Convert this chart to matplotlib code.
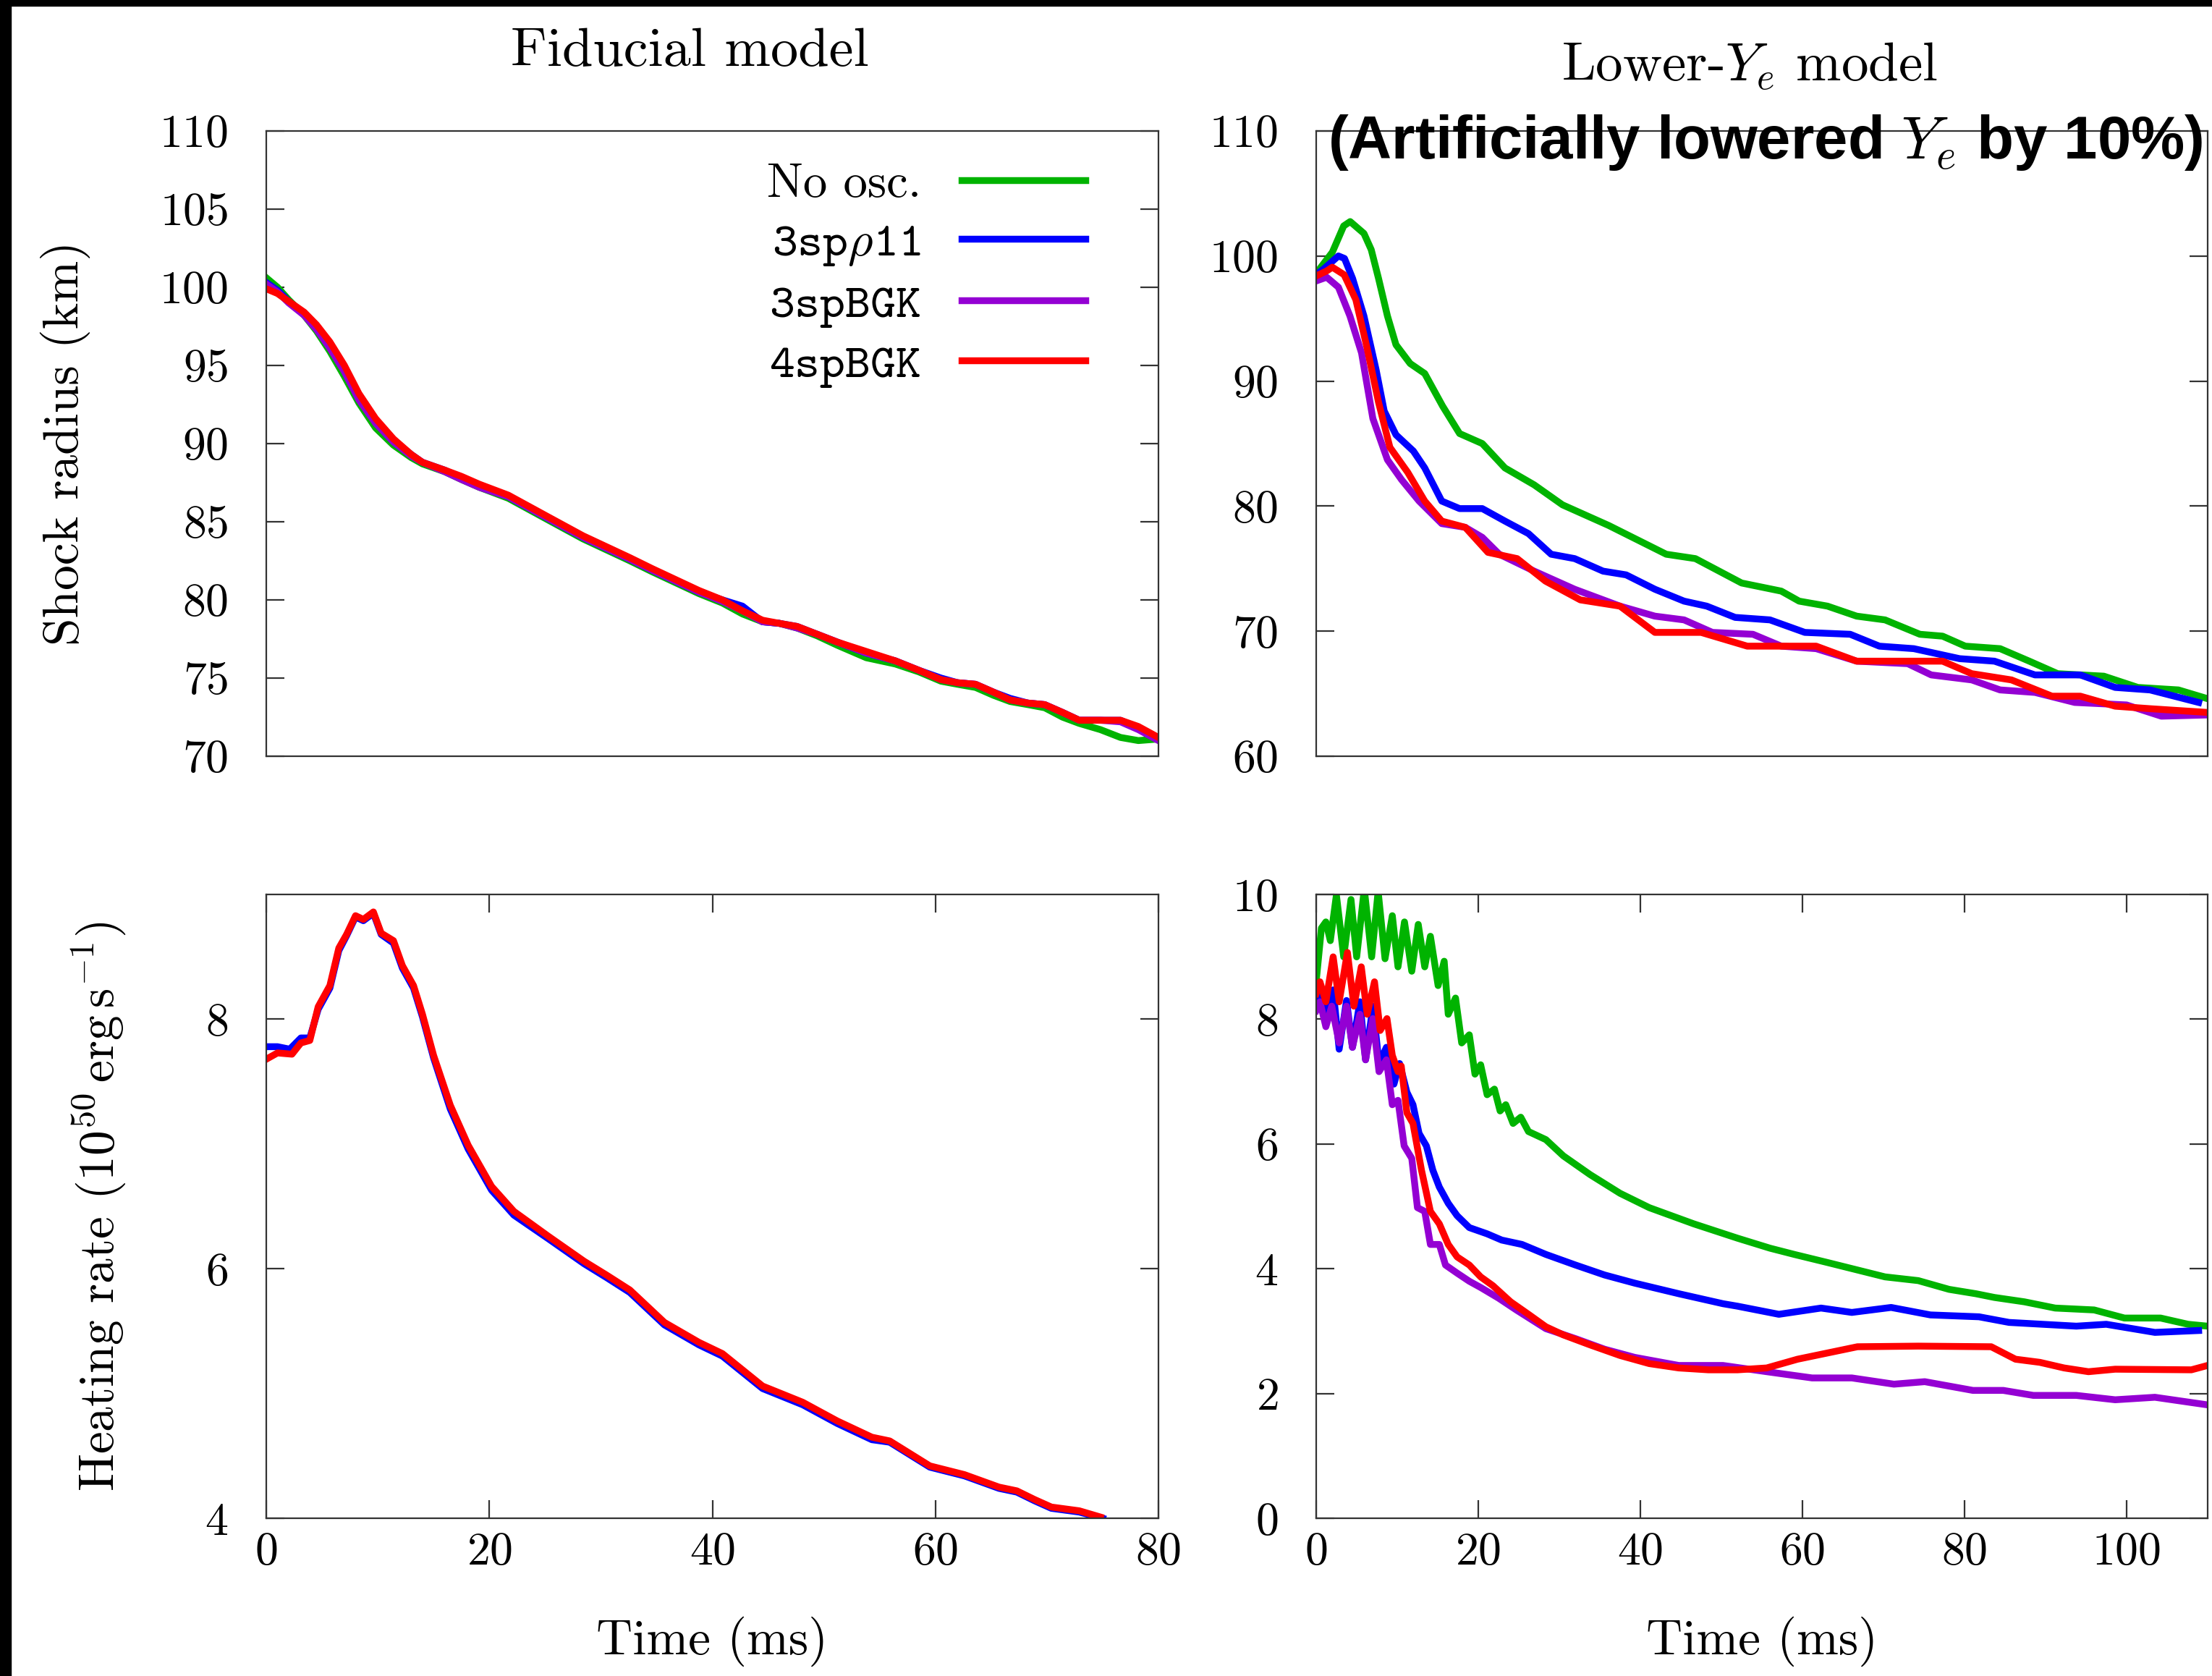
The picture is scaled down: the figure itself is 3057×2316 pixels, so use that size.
import matplotlib
matplotlib.use("Agg")
import matplotlib.pyplot as plt
from matplotlib.patches import Rectangle

plt.rcParams['font.family'] = 'cmr10'
plt.rcParams['mathtext.fontset'] = 'cm'
plt.rcParams['axes.formatter.use_mathtext'] = True
plt.rcParams['axes.unicode_minus'] = False

labels = ["No osc.", r"3sp$\rho$11", "3spBGK", "4spBGK"]
colors = ["#00b300", "#0000ff", "#9400d3", "#ff0000"]

# ---- Fiducial model: shock radius (km) ----
fid_r_t = [0, 1.0, 2.0, 3.4, 4.5, 5.7, 7.0, 8.3, 9.8, 11.4, 13.0, 14.0, 16.0, 17.5, 19.1, 21.7,
           23.5, 25.3, 28.4, 30.5, 32.6, 34.6, 36.7, 38.8, 40.9, 42.7, 44.5, 46.0, 47.6, 49.4,
           51.2, 53.8, 56.4, 58.5, 60.5, 62.0, 63.6, 65.2, 66.7, 68.3, 69.8, 71.4, 72.9, 74.8,
           76.6, 78.2, 80.0]
fid_r_noosc = [100.6, 100.0, 99.2, 98.2, 97.2, 95.9, 94.3, 92.6, 91.0, 89.9, 89.1, 88.7, 88.2,
               87.7, 87.2, 86.5, 85.8, 85.1, 83.9, 83.2, 82.5, 81.8, 81.1, 80.4, 79.8, 79.1,
               78.6, 78.5, 78.2, 77.7, 77.1, 76.3, 75.9, 75.4, 74.8, 74.6, 74.4, 73.9, 73.5,
               73.3, 73.1, 72.5, 72.1, 71.7, 71.2, 71.0, 71.1]
fid_r_3sp = [100.3, 99.8, 99.1, 98.3, 97.4, 96.2, 94.7, 92.9, 91.4, 90.2, 89.3, 88.8, 88.3,
             87.8, 87.3, 86.6, 85.9, 85.2, 84.0, 83.3, 82.6, 81.9, 81.2, 80.5, 80.0, 79.6,
             78.6, 78.5, 78.3, 77.8, 77.3, 76.6, 76.1, 75.5, 75.0, 74.7, 74.6, 74.1, 73.7,
             73.4, 73.3, 72.8, 72.3, 72.3, 72.3, 71.8, 71.1]
fid_r_3bgk = [100.2, 99.7, 99.0, 98.2, 97.3, 96.1, 94.6, 92.8, 91.3, 90.1, 89.2, 88.8, 88.2,
              87.7, 87.2, 86.6, 85.9, 85.2, 84.0, 83.3, 82.6, 81.9, 81.2, 80.5, 79.9, 79.3,
              78.6, 78.5, 78.2, 77.8, 77.3, 76.6, 76.1, 75.5, 74.9, 74.7, 74.6, 74.1, 73.6,
              73.4, 73.3, 72.8, 72.3, 72.3, 72.2, 71.7, 71.0]
fid_r_4bgk = [99.9, 99.6, 99.1, 98.4, 97.6, 96.5, 95.0, 93.2, 91.6, 90.3, 89.3, 88.8, 88.3,
              87.9, 87.4, 86.7, 86.0, 85.3, 84.1, 83.4, 82.7, 82.0, 81.3, 80.6, 80.0, 79.3,
              78.7, 78.5, 78.3, 77.8, 77.3, 76.7, 76.1, 75.5, 74.9, 74.7, 74.6, 74.1, 73.6,
              73.4, 73.3, 72.8, 72.3, 72.3, 72.3, 71.9, 71.2]

# ---- Fiducial model: heating rate ----
fid_h_t_3sp = [0, 1.0, 2.1, 3.1, 3.9, 4.65, 5.7, 6.5, 7.2, 8.0, 8.7, 9.6, 10.3, 11.4, 12.2, 13.2,
               14.0, 15.0, 16.5, 18.1, 20.2, 22.2, 25.3, 28.5, 30.5, 32.6, 35.7, 38.8, 40.9,
               42.7, 44.5, 48.1, 51.2, 54.3, 55.9, 57.7, 59.5, 62.6, 65.7, 67.3, 68.9, 70.4,
               72.9, 75.0]
fid_h_3sp = [7.78, 7.78, 7.76, 7.85, 7.85, 8.08, 8.25, 8.55, 8.67, 8.82, 8.79, 8.85, 8.68, 8.61,
             8.41, 8.25, 8.02, 7.69, 7.28, 6.96, 6.63, 6.43, 6.24, 6.04, 5.93, 5.81, 5.55, 5.39,
             5.30, 5.17, 5.04, 4.91, 4.76, 4.63, 4.61, 4.51, 4.41, 4.34, 4.24, 4.21, 4.14, 4.08,
             4.05, 4.00]
fid_h_t_4bgk = [0, 1.0, 2.3, 3.1, 3.9, 4.65, 5.7, 6.5, 7.2, 8.0, 8.7, 9.6, 10.3, 11.4, 12.2, 13.2,
                14.0, 15.0, 16.5, 18.1, 20.2, 22.2, 25.3, 28.5, 30.5, 32.6, 35.7, 38.8, 40.9,
                42.7, 44.5, 48.1, 51.2, 54.3, 55.9, 57.7, 59.5, 62.6, 65.7, 67.3, 68.9, 70.4,
                72.9, 74.8]
fid_h_4bgk = [7.68, 7.73, 7.72, 7.81, 7.83, 8.10, 8.27, 8.57, 8.68, 8.83, 8.80, 8.86, 8.69, 8.63,
              8.43, 8.27, 8.04, 7.71, 7.31, 6.99, 6.66, 6.46, 6.26, 6.06, 5.95, 5.83, 5.57, 5.41,
              5.32, 5.19, 5.06, 4.93, 4.78, 4.65, 4.62, 4.52, 4.42, 4.35, 4.25, 4.22, 4.15, 4.09,
              4.06, 4.01]

# ---- Lower-Ye model: shock radius (km) ----
low_r_t_noosc = [0, 2.0, 3.4, 4.2, 5.9, 6.8, 7.7, 8.8, 9.85, 11.6, 13.4, 15.6, 17.7, 20.5, 23.3,
                 26.9, 30.4, 36.1, 43.2, 46.8, 52.5, 57.4, 59.6, 63.1, 66.7, 70.2, 74.5, 77.3,
                 80.1, 84.4, 88.0, 91.5, 97.2, 101.4, 106.4, 110.0]
low_r_noosc = [98.6, 100.3, 102.4, 102.75, 101.8, 100.5, 98.2, 95.2, 92.9, 91.4, 90.6, 88.0, 85.8,
               85.0, 83.05, 81.7, 80.1, 78.45, 76.15, 75.8, 73.85, 73.2, 72.4, 72.0, 71.2, 70.9,
               69.75, 69.6, 68.8, 68.6, 67.6, 66.6, 66.4, 65.5, 65.3, 64.6]
low_r_t_3sp = [0, 1.0, 2.75, 3.5, 4.5, 5.9, 7.4, 8.4, 9.85, 12.0, 13.4, 15.5, 17.7, 20.5, 23.3,
               26.2, 29.0, 31.9, 35.4, 38.25, 41.8, 45.4, 48.2, 51.7, 56.0, 60.3, 65.9, 69.5,
               73.75, 79.4, 83.7, 88.7, 94.3, 98.6, 102.9, 108.9]
low_r_3sp = [98.5, 99.0, 100.0, 99.8, 98.2, 95.2, 90.9, 87.6, 85.7, 84.4, 83.05, 80.4, 79.8, 79.8,
             78.8, 77.8, 76.15, 75.8, 74.8, 74.5, 73.35, 72.4, 72.0, 71.1, 70.9, 69.9, 69.75,
             68.8, 68.6, 67.8, 67.6, 66.5, 66.5, 65.5, 65.3, 64.3]
low_r_t_3bgk = [0, 1.3, 2.75, 4.17, 5.6, 7.0, 8.8, 10.55, 12.7, 15.5, 18.4, 20.5, 22.6, 26.9,
                31.9, 37.5, 41.8, 45.4, 48.9, 53.9, 57.4, 61.7, 66.7, 73.0, 75.9, 80.9, 84.4,
                88.7, 93.6, 100.0, 104.3, 110.0]
low_r_3bgk = [98.0, 98.3, 97.5, 95.2, 92.25, 87.0, 83.7, 82.1, 80.4, 78.6, 78.3, 77.5, 76.15,
              74.8, 73.35, 72.0, 71.2, 70.9, 69.9, 69.75, 68.8, 68.6, 67.6, 67.4, 66.5, 66.1,
              65.3, 65.1, 64.3, 64.1, 63.2, 63.3]
low_r_t_4bgk = [0, 1.3, 2.0, 3.45, 4.9, 6.3, 7.7, 9.1, 11.3, 13.4, 15.5, 18.4, 21.2, 24.8, 28.3,
                32.6, 37.5, 41.8, 47.5, 53.2, 61.7, 66.7, 77.3, 80.9, 85.8, 90.8, 94.3, 98.6,
                102.9, 110.0]
low_r_4bgk = [98.4, 98.8, 99.1, 98.5, 96.5, 92.6, 88.3, 84.7, 82.7, 80.4, 78.8, 78.3, 76.3, 75.8,
              74.0, 72.5, 72.0, 69.9, 69.9, 68.8, 68.8, 67.6, 67.6, 66.6, 66.1, 64.8, 64.8, 64.0,
              63.8, 63.5]

# ---- Lower-Ye model: heating rate ----
low_h_t_noosc = [0, 0.65, 1.2, 1.75, 2.5, 3.4, 4.3, 5.0, 5.94, 6.85, 7.65, 8.5, 9.4, 10.1, 10.9,
                 11.8, 12.6, 13.4, 14.1, 15.05, 15.8, 16.3, 17.2, 17.96, 18.9, 19.6, 20.3, 21.1,
                 22.0, 22.7, 23.4, 24.3, 25.25, 26.2, 28.35, 30.5, 33.8, 37.5, 41.1, 46.6, 52.0,
                 56.0, 59.0, 63.1, 70.2, 74.3, 78.1, 81.4, 83.7, 87.4, 91.2, 96.0, 99.75, 104.2,
                 107.6, 110.0]
low_h_noosc = [8.6, 9.46, 9.56, 9.26, 9.99, 9.0, 9.92, 9.0, 10.09, 9.0, 10.05, 8.97, 9.66, 8.84,
               9.56, 8.77, 9.52, 8.84, 9.33, 8.54, 8.93, 8.08, 8.34, 7.62, 7.75, 7.12, 7.27, 6.79,
               6.88, 6.53, 6.63, 6.33, 6.43, 6.2, 6.07, 5.81, 5.51, 5.21, 4.98, 4.72, 4.49, 4.33,
               4.23, 4.10, 3.87, 3.81, 3.67, 3.60, 3.54, 3.47, 3.37, 3.34, 3.21, 3.21, 3.11, 3.08]
low_h_t_3sp = [0, 0.65, 1.4, 2.1, 2.84, 3.75, 4.48, 5.4, 6.1, 7.0, 7.76, 8.67, 9.6, 10.3, 11.2,
               11.95, 12.7, 13.6, 14.4, 15.2, 16.3, 17.4, 18.9, 21.1, 22.9, 25.4, 28.35, 32.0,
               35.6, 39.3, 44.75, 50.2, 52.0, 57.1, 62.3, 66.1, 70.95, 75.8, 81.8, 85.5, 93.8,
               97.5, 103.5, 108.9]
low_h_3sp = [8.28, 8.47, 8.01, 8.47, 7.52, 8.3, 7.55, 8.28, 7.35, 8.21, 7.29, 7.55, 6.96, 7.29,
             6.83, 6.63, 6.17, 5.97, 5.58, 5.31, 5.05, 4.85, 4.66, 4.56, 4.46, 4.39, 4.23, 4.06,
             3.90, 3.77, 3.60, 3.44, 3.40, 3.27, 3.37, 3.30, 3.38, 3.26, 3.23, 3.14, 3.08, 3.11,
             2.98, 3.01]
low_h_t_3bgk = [0, 0.47, 1.2, 1.93, 2.84, 3.75, 4.48, 5.4, 6.1, 7.0, 7.76, 8.67, 9.4, 10.1, 10.86,
                11.8, 12.5, 13.4, 14.1, 15.2, 15.96, 17.4, 18.9, 20.3, 22.5, 24.7, 28.35, 32.0,
                35.6, 39.3, 44.75, 50.2, 55.6, 61.2, 66.1, 71.3, 75.1, 81.05, 84.8, 88.5, 93.8,
                98.6, 103.5, 109.9]
low_h_3bgk = [8.14, 8.28, 7.88, 8.21, 7.62, 8.21, 7.55, 8.08, 7.35, 8.01, 7.16, 7.35, 6.63, 6.7,
              5.97, 5.77, 4.98, 4.92, 4.39, 4.39, 4.06, 3.93, 3.80, 3.70, 3.53, 3.34, 3.04, 2.88,
              2.71, 2.58, 2.45, 2.45, 2.35, 2.25, 2.25, 2.15, 2.19, 2.05, 2.05, 1.97, 1.97, 1.90,
              1.94, 1.82]
low_h_t_4bgk = [0, 0.47, 1.2, 2.1, 2.84, 3.86, 4.66, 5.57, 6.3, 7.2, 7.9, 8.74, 9.4, 10.1, 10.5,
                11.2, 11.95, 13.0, 14.1, 15.2, 16.3, 17.4, 18.9, 20.3, 21.8, 24.0, 26.2, 28.35,
                30.5, 33.8, 37.5, 41.1, 44.75, 48.4, 52.0, 55.6, 59.4, 63.1, 66.8, 74.3, 83.3,
                86.3, 89.3, 92.3, 95.3, 98.6, 108.0, 110.0]
low_h_4bgk = [8.41, 8.6, 8.28, 9.0, 8.28, 9.07, 8.21, 8.84, 8.08, 8.6, 7.82, 8.01, 7.42, 7.16, 7.25,
              6.5, 6.33, 5.58, 4.92, 4.72, 4.39, 4.19, 4.06, 3.87, 3.73, 3.47, 3.27, 3.07, 2.94,
              2.78, 2.61, 2.48, 2.41, 2.38, 2.38, 2.41, 2.55, 2.65, 2.75, 2.76, 2.75, 2.55, 2.5,
              2.41, 2.35, 2.39, 2.38, 2.45]

fig = plt.figure(figsize=(30.57, 23.16), dpi=100)
ax_tl = fig.add_axes([0.1204, 0.5488, 0.4033, 0.3731])
ax_tr = fig.add_axes([0.5950, 0.5488, 0.4030, 0.3731])
ax_bl = fig.add_axes([0.1204, 0.0941, 0.4033, 0.3722])
ax_br = fig.add_axes([0.5950, 0.0941, 0.4030, 0.3722])

lw = 6.8

for t, r, c, lab in [(fid_r_t, fid_r_noosc, colors[0], labels[0]),
                     (fid_r_t, fid_r_3sp, colors[1], labels[1]),
                     (fid_r_t, fid_r_3bgk, colors[2], labels[2]),
                     (fid_r_t, fid_r_4bgk, colors[3], labels[3])]:
    ax_tl.plot(t, r, color=c, lw=lw, label=lab)

ax_bl.plot(fid_h_t_3sp, fid_h_3sp, color=colors[1], lw=lw)
ax_bl.plot(fid_h_t_4bgk, fid_h_4bgk, color=colors[3], lw=lw)

ax_tr.plot(low_r_t_noosc, low_r_noosc, color=colors[0], lw=lw)
ax_tr.plot(low_r_t_3sp, low_r_3sp, color=colors[1], lw=lw)
ax_tr.plot(low_r_t_3bgk, low_r_3bgk, color=colors[2], lw=lw)
ax_tr.plot(low_r_t_4bgk, low_r_4bgk, color=colors[3], lw=lw)

ax_br.plot(low_h_t_noosc, low_h_noosc, color=colors[0], lw=lw)
ax_br.plot(low_h_t_3sp, low_h_3sp, color=colors[1], lw=lw)
ax_br.plot(low_h_t_3bgk, low_h_3bgk, color=colors[2], lw=lw)
ax_br.plot(low_h_t_4bgk, low_h_4bgk, color=colors[3], lw=lw)

ax_tl.set_xlim(0, 80)
ax_tl.set_ylim(70, 110)
ax_tl.set_yticks(range(70, 111, 5))
ax_tr.set_xlim(0, 110)
ax_tr.set_ylim(60, 110)
ax_tr.set_yticks(range(60, 111, 10))
ax_bl.set_xlim(0, 80)
ax_bl.set_ylim(4, 9)
ax_bl.set_yticks([4, 6, 8])
ax_bl.set_xticks(range(0, 81, 20))
ax_br.set_xlim(0, 110)
ax_br.set_ylim(0, 10)
ax_br.set_yticks(range(0, 11, 2))
ax_br.set_xticks(range(0, 101, 20))

for ax in [ax_tl, ax_tr]:
    ax.set_xticks([])

for ax in [ax_tl, ax_tr, ax_bl, ax_br]:
    for s in ax.spines.values():
        s.set_linewidth(1.6)
        s.set_color("#333333")
    ax.tick_params(axis="both", direction="in", length=18, width=1.6, color="#333333",
                   top=True, right=True, labelsize=46)
    ax.tick_params(axis="y", pad=38)
    ax.tick_params(axis="x", pad=14)

ax_tl.set_ylabel("Shock radius (km)", fontsize=50)
ax_tl.yaxis.set_label_coords(-0.197, 0.5)
ax_bl.set_ylabel(r"Heating rate $(10^{50}\,\mathrm{erg\,s^{-1}})$", fontsize=50)
ax_bl.yaxis.set_label_coords(-0.155, 0.5)
ax_bl.set_xlabel("Time (ms)", fontsize=50)
ax_bl.xaxis.set_label_coords(0.5, -0.157)
ax_br.set_xlabel("Time (ms)", fontsize=50)
ax_br.xaxis.set_label_coords(0.5, -0.157)

fig.text(0.3117, 0.9689, "Fiducial model", fontsize=55, ha="center", va="center")
fig.text(0.791, 0.960, r"Lower-$Y_e$ model", fontsize=54, ha="center", va="center")
fig.text(0.798, 0.915, r"(Artificially lowered $Y_e$ by 10%)", fontsize=60,
         family="Liberation Sans", weight="bold", ha="center", va="center")

leg = ax_tl.legend(loc="upper right", bbox_to_anchor=(0.918, 0.948), frameon=False,
                   markerfirst=False, fontsize=48, handlelength=2.56, handletextpad=0.84,
                   labelspacing=0.32, borderpad=0, borderaxespad=0)
for i, txt in enumerate(leg.get_texts()):
    txt.set_fontfamily("cmr10" if i == 0 else "cmtt10")

# black frame strips on the top and left edges of the picture
fig.patches.append(Rectangle((0, 1 - 8 / 2316), 1, 8 / 2316, transform=fig.transFigure,
                             color="black", zorder=10))
fig.patches.append(Rectangle((0, 0), 15 / 3057, 1, transform=fig.transFigure,
                             color="black", zorder=10))

fig.savefig("out.png", dpi=100)
